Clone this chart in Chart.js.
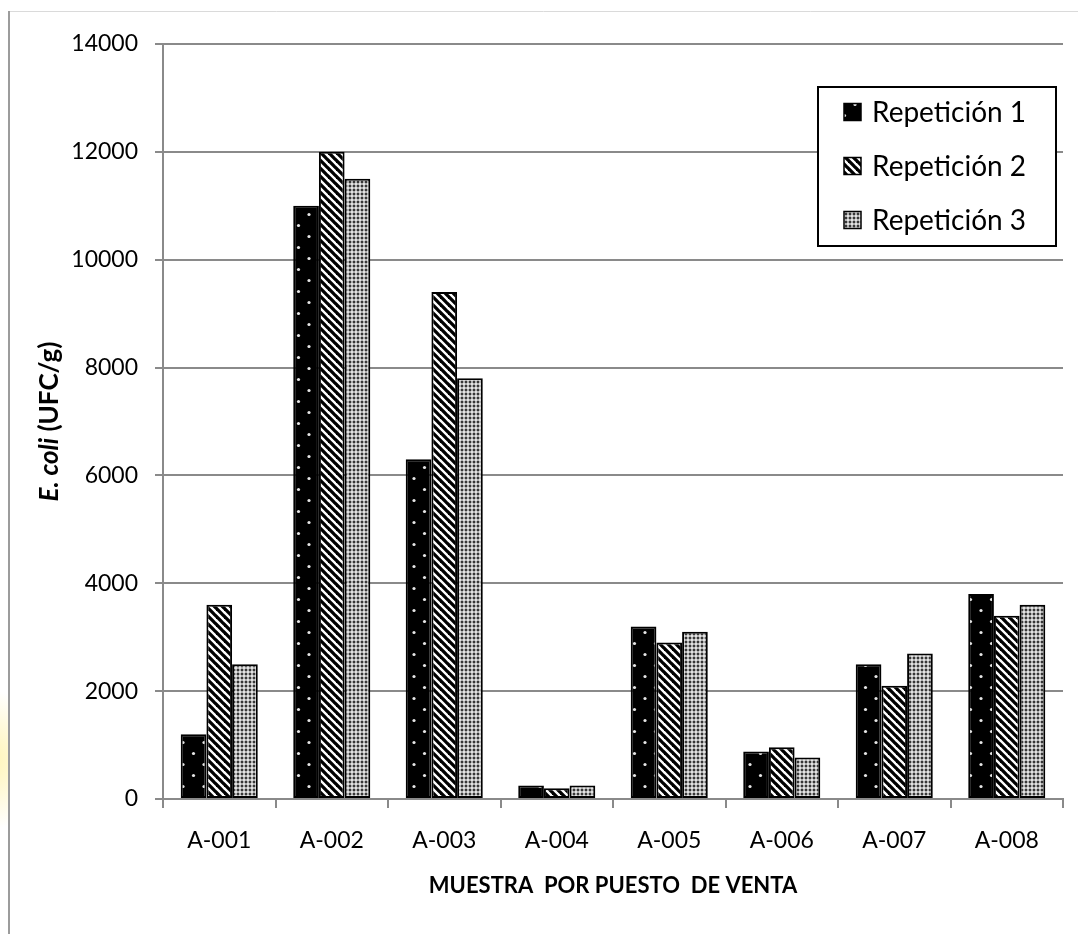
<!DOCTYPE html>
<html>
<head>
<meta charset="utf-8">
<script src="https://cdn.jsdelivr.net/npm/chart.js@4/dist/chart.umd.min.js"></script>
<style>
  html, body { margin: 0; padding: 0; background: #ffffff; }
  #wrap { width: 1078px; height: 934px; position: relative; }
</style>
</head>
<body>
<div id="wrap"><canvas id="c" width="1078" height="934"></canvas></div>
<script>
// Sample points (sales stalls)
const categories = ['A-001', 'A-002', 'A-003', 'A-004', 'A-005', 'A-006', 'A-007', 'A-008'];
// E. coli counts (UFC/g) per repetition
const rep1 = [1200, 11000, 6300, 250, 3200, 880, 2500, 3800];
const rep2 = [3600, 12000, 9400, 200, 2900, 960, 2100, 3400];
const rep3 = [2500, 11500, 7800, 250, 3100, 770, 2700, 3600];
const seriesNames = ['Repetición 1', 'Repetición 2', 'Repetición 3'];
const yTicks = [0, 2000, 4000, 6000, 8000, 10000, 12000, 14000];

const FONT = 'Lato, "Open Sans", sans-serif';
const GRID = '#8a8a8a';

// ---- fill patterns ----
function makeTile(w, h, paint) {
  const t = document.createElement('canvas');
  t.width = w; t.height = h;
  paint(t.getContext('2d'), w, h);
  return t;
}
const ctxMain = document.getElementById('c').getContext('2d');

// black with sparse light dots
const tileDots = makeTile(21, 22, (g, w, h) => {
  g.fillStyle = '#000'; g.fillRect(0, 0, w, h);
  g.fillStyle = '#e6e6e6';
  g.beginPath(); g.arc(4.5, 5.5, 1.6, 0, Math.PI * 2); g.fill();
  g.beginPath(); g.arc(15, 16.5, 1.6, 0, Math.PI * 2); g.fill();
});
// black/white diagonal stripes
const tileStripes = makeTile(8, 8, (g, w, h) => {
  g.fillStyle = '#fff'; g.fillRect(0, 0, w, h);
  g.strokeStyle = '#000'; g.lineWidth = 3.3; g.lineCap = 'square';
  for (let k = -1; k <= 1; k++) {
    g.beginPath(); g.moveTo(k * w - 2, -2); g.lineTo(k * w + w + 2, h + 2); g.stroke();
  }
});
// white with dense grey dots
const tileGrid = makeTile(4, 4, (g, w, h) => {
  g.fillStyle = '#eeeeee'; g.fillRect(0, 0, w, h);
  g.fillStyle = '#7a7a7a';
  g.beginPath(); g.arc(2, 2, 1.7, 0, Math.PI * 2); g.fill();
  g.fillStyle = '#222';
  g.beginPath(); g.arc(2, 2, 1.0, 0, Math.PI * 2); g.fill();
});
const patterns = [
  ctxMain.createPattern(tileDots, 'repeat'),
  ctxMain.createPattern(tileStripes, 'repeat'),
  ctxMain.createPattern(tileGrid, 'repeat')
];

// ---- decorations: frame, axis titles, legend ----
const decor = {
  id: 'decor',
  beforeDraw(chart) {
    const g = chart.ctx;
    g.save();
    g.fillStyle = '#fff';
    g.fillRect(0, 0, chart.width, chart.height);
    // soft yellow glow at the left margin
    const rg = g.createRadialGradient(-14, 760, 2, -14, 760, 70);
    rg.addColorStop(0, 'rgba(255,236,120,0.55)');
    rg.addColorStop(1, 'rgba(255,236,120,0)');
    g.fillStyle = rg;
    g.fillRect(0, 680, 9, 170);
    // outer frame
    g.strokeStyle = '#dadada'; g.lineWidth = 1;
    g.beginPath(); g.moveTo(9, 11.5); g.lineTo(chart.width, 11.5); g.stroke();
    g.strokeStyle = '#9c9c9c'; g.lineWidth = 2;
    g.beginPath(); g.moveTo(9, 11); g.lineTo(9, chart.height); g.stroke();
    g.restore();
  },
  afterDraw(chart) {
    const g = chart.ctx;
    const area = chart.chartArea;
    g.save();
    // x-axis title
    g.fillStyle = '#000';
    g.font = 'bold 22px ' + FONT;
    g.textAlign = 'center'; g.textBaseline = 'middle';
    g.fillText('MUESTRA  POR PUESTO  DE VENTA', (area.left + area.right) / 2, 886);
    // y-axis title, italic species name followed by unit
    g.translate(50, (area.top + area.bottom) / 2);
    g.rotate(-Math.PI / 2);
    const part1 = 'E. coli';
    const part2 = ' (UFC/g)';
    const fs = 26;
    g.font = 'italic bold ' + fs + 'px ' + FONT;
    const w1 = g.measureText(part1).width;
    g.font = 'bold ' + fs + 'px ' + FONT;
    const w2 = g.measureText(part2).width;
    const x0 = -(w1 + w2) / 2;
    g.textAlign = 'left';
    g.font = 'italic bold ' + fs + 'px ' + FONT;
    g.fillText(part1, x0, 0);
    g.font = 'bold ' + fs + 'px ' + FONT;
    g.fillText(part2, x0 + w1, 0);
    g.restore();

    // legend
    g.save();
    const bx = 818, by = 87, bw = 238, bh = 159;
    g.fillStyle = '#fff';
    g.fillRect(bx, by, bw, bh);
    g.strokeStyle = '#000'; g.lineWidth = 2;
    g.strokeRect(bx, by, bw, bh);
    g.font = '28px ' + FONT;
    g.textAlign = 'left'; g.textBaseline = 'middle';
    chart.data.datasets.forEach((ds, i) => {
      const cy = 112 + i * 54;
      g.fillStyle = ds.backgroundColor;
      g.fillRect(844, cy - 8.5, 17, 17);
      g.strokeStyle = '#000'; g.lineWidth = 1.5;
      g.strokeRect(844, cy - 8.5, 17, 17);
      g.fillStyle = '#000';
      g.fillText(ds.label, 872, cy + 1);
    });
    g.restore();
  }
};

const seriesData = [rep1, rep2, rep3];
const chart = new Chart(document.getElementById('c'), {
  type: 'bar',
  data: {
    labels: categories,
    datasets: seriesData.map((vals, i) => ({
      label: seriesNames[i],
      data: vals,
      backgroundColor: patterns[i],
      borderColor: '#000',
      borderWidth: 2,
      borderSkipped: false,
      categoryPercentage: 0.685,
      barPercentage: 1.0
    }))
  },
  options: {
    responsive: false,
    animation: false,
    devicePixelRatio: 1,
    layout: { padding: { left: 0, top: 44, right: 15, bottom: 0 } },
    plugins: {
      legend: { display: false },
      tooltip: { enabled: false },
      title: { display: false }
    },
    scales: {
      x: {
        offset: true,
        grid: {
          display: true, drawOnChartArea: false, drawTicks: true,
          tickLength: 9, offset: true, color: GRID, lineWidth: 2
        },
        border: { display: true, color: GRID, width: 2 },
        ticks: { color: '#000', font: { family: FONT, size: 23 }, padding: 19, maxRotation: 0 },
        afterFit(scale) { scale.height = 135; }
      },
      y: {
        min: 0, max: 14000,
        afterBuildTicks(scale) { scale.ticks = yTicks.map(v => ({ value: v })); },
        grid: {
          display: true, drawOnChartArea: true, drawTicks: true,
          tickLength: 8, color: GRID, lineWidth: 2
        },
        border: { display: true, color: GRID, width: 2 },
        ticks: {
          color: '#000', font: { family: FONT, size: 23 }, padding: 17,
          callback: v => String(v)
        },
        afterFit(scale) { scale.width = 163; }
      }
    }
  },
  plugins: [decor]
});
</script>
</body>
</html>
